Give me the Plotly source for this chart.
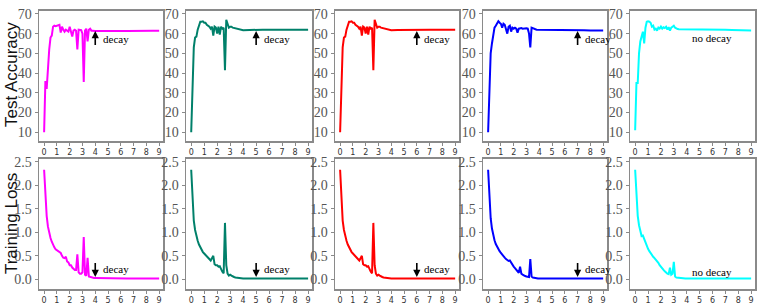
import plotly.graph_objects as go

# ---------------- data ----------------
epochs = [0.0, 0.1, 0.2, 0.3, 0.4, 0.5, 0.6, 0.7, 0.8, 0.9,
          1.0, 1.1, 1.2, 1.3, 1.4, 1.5, 1.6, 1.7, 1.8, 1.9,
          2.0, 2.1, 2.2, 2.3, 2.4, 2.5, 2.6, 2.7, 2.8, 2.9,
          3.0, 3.1, 3.2, 3.3, 3.4, 3.5, 3.6, 3.7, 3.8, 3.9,
          4.0, 4.5, 5.0, 5.5, 6.0, 6.5, 7.0, 7.5, 8.0, 8.5, 9.0]

acc_magenta = [10, 36, 32, 45, 52, 58, 59, 63.5, 64, 63.8,
               64, 64.3, 64.5, 60.5, 63.5, 62, 61, 62, 61.5, 61,
               63.5, 60, 58.5, 61.5, 62, 61.5, 52, 62, 62, 61.8,
               60, 35.5, 61.5, 62.5, 56, 62, 62.5, 61.5, 61.5, 61.3,
               61.3, 61.3, 61.2, 61.2, 61.3, 61.3, 61.4, 61.4, 61.4, 61.4, 61.4]
loss_magenta = [2.33, 1.7, 1.35, 1.12, 0.98, 0.88, 0.8, 0.73, 0.68, 0.64,
                0.62, 0.6, 0.58, 0.56, 0.5, 0.46, 0.45, 0.48, 0.38, 0.36,
                0.3, 0.3, 0.25, 0.22, 0.2, 0.2, 0.53, 0.15, 0.12, 0.12,
                0.15, 0.9, 0.1, 0.08, 0.46, 0.06, 0.05, 0.04, 0.035, 0.03,
                0.03, 0.025, 0.022, 0.02, 0.02, 0.02, 0.02, 0.02, 0.02, 0.02, 0.02]

acc_green = [10, 40, 53, 58, 58.5, 62, 64, 66, 66, 66.2,
             65.5, 65.5, 64.5, 64, 63.5, 62.5, 63.5, 59, 63.5, 63,
             60, 63.5, 59.5, 63.5, 62.5, 63, 41.5, 67, 65, 63,
             63.5, 63.5, 63, 62.8, 62.5, 62.3, 62.2, 62, 61.8, 61.7,
             61.7, 61.8, 62, 62, 61.9, 61.9, 61.9, 61.9, 62, 62, 62]
loss_green = [2.33, 1.6, 1.25, 1.05, 0.92, 0.82, 0.74, 0.68, 0.63, 0.58,
              0.55, 0.52, 0.48, 0.45, 0.42, 0.4, 0.45, 0.5, 0.32, 0.3,
              0.3, 0.27, 0.28, 0.2, 0.16, 0.13, 1.2, 0.3, 0.12, 0.08,
              0.1, 0.08, 0.06, 0.05, 0.04, 0.035, 0.03, 0.03, 0.025, 0.025,
              0.02, 0.02, 0.02, 0.02, 0.02, 0.02, 0.02, 0.02, 0.02, 0.02, 0.02]

acc_red = [10, 40, 53, 58, 58.5, 62, 64, 66, 66, 66.2,
           65.5, 65.5, 64.5, 64, 63.5, 62.5, 63.5, 59, 63.5, 63,
           60, 63.5, 59.5, 63.5, 62.5, 63, 41.5, 67, 65, 63,
           63.5, 63.5, 63, 62.8, 62.5, 62.3, 62.2, 62, 61.8, 61.7,
           61.7, 61.8, 61.9, 62, 62, 62, 62, 62, 62, 62, 62]
loss_red = [2.33, 1.6, 1.25, 1.05, 0.92, 0.82, 0.74, 0.68, 0.63, 0.58,
            0.55, 0.52, 0.48, 0.45, 0.42, 0.4, 0.45, 0.5, 0.32, 0.3,
            0.3, 0.27, 0.28, 0.2, 0.16, 0.13, 1.2, 0.3, 0.12, 0.08,
            0.1, 0.08, 0.06, 0.05, 0.04, 0.035, 0.03, 0.03, 0.025, 0.025,
            0.02, 0.02, 0.02, 0.02, 0.02, 0.02, 0.02, 0.02, 0.02, 0.02, 0.02]

acc_blue = [10, 38, 50, 55, 60, 63, 64, 65, 66.3, 65.5,
            65, 63, 65, 64.5, 62, 60, 63.5, 64, 61, 63,
            62.5, 63, 62.5, 60.5, 62.5, 62.8, 62.8, 62.5, 62.6, 62.6,
            62.7, 62.5, 60, 53, 63, 62.8, 62.3, 62.2, 62, 62,
            62, 61.9, 61.8, 61.7, 61.7, 61.7, 61.7, 61.7, 61.6, 61.6, 61.6]
loss_blue = [2.33, 1.65, 1.3, 1.08, 0.93, 0.83, 0.75, 0.69, 0.64, 0.6,
             0.56, 0.52, 0.49, 0.46, 0.43, 0.41, 0.39, 0.4, 0.35, 0.3,
             0.27, 0.24, 0.2, 0.17, 0.14, 0.27, 0.12, 0.1, 0.08, 0.07,
             0.06, 0.05, 0.05, 0.43, 0.06, 0.04, 0.03, 0.03, 0.025, 0.02,
             0.02, 0.02, 0.02, 0.02, 0.02, 0.02, 0.02, 0.02, 0.02, 0.02, 0.02]

acc_cyan = [11, 35, 35, 50, 56, 59, 61, 55, 63, 66,
            66.2, 66, 65.5, 63.5, 64, 62, 62.5, 61.5, 63, 62.5,
            63.5, 62.5, 63.2, 62.8, 63.5, 62, 63.3, 61.5, 63, 63.5,
            64, 63, 62.5, 62.3, 62.2, 62.2, 62.1, 62, 62.1, 62,
            62, 62, 61.9, 61.9, 61.9, 62, 61.9, 61.8, 61.7, 61.6, 61.6]
loss_cyan = [2.33, 1.7, 1.35, 1.15, 1.0, 0.92, 0.93, 0.85, 0.77, 0.72,
             0.65, 0.6, 0.55, 0.52, 0.48, 0.45, 0.42, 0.38, 0.35, 0.3,
             0.26, 0.22, 0.2, 0.17, 0.14, 0.12, 0.11, 0.25, 0.1, 0.12,
             0.37, 0.06, 0.04, 0.035, 0.03, 0.028, 0.025, 0.022, 0.02, 0.02,
             0.02, 0.02, 0.02, 0.02, 0.02, 0.02, 0.02, 0.02, 0.02, 0.02, 0.02]

acc_series = [acc_magenta, acc_green, acc_red, acc_blue, acc_cyan]
loss_series = [loss_magenta, loss_green, loss_red, loss_blue, loss_cyan]
colors = ["#ff00ff", "#00806a", "#ff0000", "#0000ff", "#00ffff"]
decay_epochs = [4, 5, 6, 7, None]

x_ticks = [0, 1, 2, 3, 4, 5, 6, 7, 8, 9]
acc_ticks = [10, 20, 30, 40, 50, 60, 70]
loss_ticks = [0.0, 0.5, 1.0, 1.5, 2.0, 2.5]
loss_ticklabels = ["0.0", "0.5", "1.0", "1.5", "2.0", "2.5"]

# ---------------- layout geometry ----------------
W, H = 761, 305
col_px = [(39, 163), (186, 312), (335, 459), (483, 607), (630, 755)]
row_px = [(7, 139), (157, 289)]  # top row, bottom row (pixels from top)

fig = go.Figure()
layout = dict(
    width=W, height=H, margin=dict(l=0, r=0, t=0, b=0),
    paper_bgcolor="white", plot_bgcolor="white", showlegend=False,
)
annotations = []

frame_color = "#8a8a8a"
ytick_font = dict(family="Liberation Serif", size=14, color="#555555")
xtick_font = dict(family="DejaVu Sans", size=8, color="#333333")

for r in range(2):
    for c in range(5):
        idx = r * 5 + c + 1
        xa = "xaxis" if idx == 1 else f"xaxis{idx}"
        ya = "yaxis" if idx == 1 else f"yaxis{idx}"
        xr = "x" if idx == 1 else f"x{idx}"
        yr = "y" if idx == 1 else f"y{idx}"
        y_vals = acc_series[c] if r == 0 else loss_series[c]
        fig.add_trace(go.Scatter(
            x=epochs, y=y_vals, mode="lines",
            line=dict(color=colors[c], width=2),
            xaxis=xr, yaxis=yr, hoverinfo="skip",
        ))
        x0, x1 = col_px[c]
        t0, t1 = row_px[r]
        layout[xa] = dict(
            domain=[x0 / W, x1 / W], anchor=yr, range=[-0.4, 9.3],
            tickvals=x_ticks, tickfont=xtick_font,
            showline=True, mirror=True, linecolor=frame_color, linewidth=1.5,
            ticks="outside", ticklen=3, tickcolor=frame_color, tickwidth=1,
            showgrid=False, zeroline=False, fixedrange=True,
        )
        if r == 0:
            yaxis_extra = dict(range=[5.5, 71.5], tickvals=acc_ticks)
        else:
            yaxis_extra = dict(range=[-0.21, 2.56], tickvals=loss_ticks,
                               ticktext=loss_ticklabels)
        layout[ya] = dict(
            domain=[1 - t1 / H, 1 - t0 / H], anchor=xr,
            tickfont=ytick_font,
            showline=True, mirror=True, linecolor=frame_color, linewidth=1.5,
            ticks="outside", ticklen=3, tickcolor=frame_color, tickwidth=1,
            showgrid=False, zeroline=False, fixedrange=True,
            **yaxis_extra,
        )
        # decay annotations
        d = decay_epochs[c]
        label_font = dict(family="Liberation Serif", size=11, color="black")
        if d is not None:
            if r == 0:
                tip, tail, ty = 61.3, 53.5, 57.5
            else:
                tip, tail, ty = 0.05, 0.38, 0.21
            annotations.append(dict(
                x=d, y=tip, ax=d, ay=tail, xref=xr, yref=yr, axref=xr, ayref=yr,
                showarrow=True, arrowhead=2, arrowsize=0.9, arrowwidth=1.6,
                arrowcolor="black", text="",
            ))
            annotations.append(dict(
                x=d + 0.42, y=ty, xref=xr, yref=yr, text="decay",
                showarrow=False, xanchor="left", yanchor="middle",
                font=label_font,
            ))
        else:
            ty = 57.6 if r == 0 else 0.15
            annotations.append(dict(
                x=5.95, y=ty, xref=xr, yref=yr, text="no decay",
                showarrow=False, xanchor="center", yanchor="middle",
                font=label_font,
            ))

# row titles
title_font = dict(family="Liberation Sans", size=17, color="#111111")
annotations.append(dict(
    x=11 / W, y=1 - 72 / H, xref="paper", yref="paper", text="Test Accuracy",
    textangle=-90, showarrow=False, xanchor="center", yanchor="middle", font=title_font,
))
annotations.append(dict(
    x=11 / W, y=1 - 223 / H, xref="paper", yref="paper", text="Training Loss",
    textangle=-90, showarrow=False, xanchor="center", yanchor="middle", font=title_font,
))
layout["annotations"] = annotations

fig.update_layout(**layout)
fig.write_html(
    "out.html",
    config={"displayModeBar": False, "staticPlot": True},
    post_script="document.body.style.margin='0';document.body.style.padding='0';document.body.style.overflow='hidden';",
)
